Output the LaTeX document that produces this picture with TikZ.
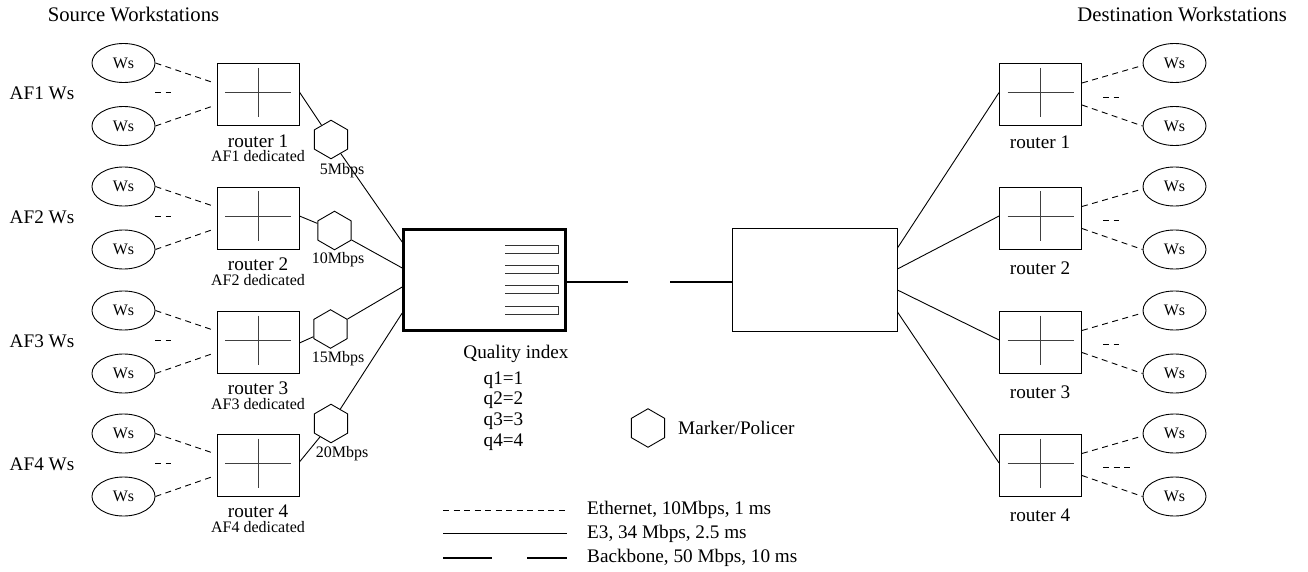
\documentclass[tikz,border=0pt]{standalone}
\usepackage{fontspec}
\setmainfont{Liberation Serif}
\usetikzlibrary{shapes.geometric,calc}
\begin{document}
\begin{tikzpicture}[x=1pt,y=-1pt,
  every node/.style={inner sep=0pt},
  big/.style={font=\fontsize{19.2}{22}\selectfont},
  title/.style={font=\fontsize{20.7}{24}\selectfont},
  small/.style={font=\fontsize{16}{19}\selectfont},
  link/.style={line width=0.9pt},
  eth/.style={line width=0.9pt, dash pattern=on 6pt off 4.5pt},
  backbone/.style={line width=2.8pt},
  crossline/.style={line width=0.9pt, black!75},
  router/.style={draw, line width=0.9pt, minimum width=82pt, minimum height=62pt},
  ws/.style={draw, ellipse, line width=0.9pt, minimum width=63pt, minimum height=39pt,
    font=\fontsize{16}{19}\selectfont},
  policer/.style={draw, regular polygon, regular polygon sides=6, shape border rotate=30,
    minimum size=38.5pt, line width=0.9pt}]
\useasboundingbox (0,0) rectangle (1308,572);

% titles
\node[title] (srcT) at (133.5,14) {Source Workstations};
\node[title, anchor=east] (dstT) at (1287,14) {Destination Workstations};

% central boxes
\node[draw, line width=2.6pt, minimum width=162pt, minimum height=101pt] (Q) at (484.5,280) {};
\node[draw, link, minimum width=165pt, minimum height=103pt] (D) at (814.5,279.5) {};

% queues inside the quality box
\foreach \t in {245,265.3,285.6,306}
  \draw[link, black!80] (505,\t) -- (558,\t) -- (558,\t+8) -- (505,\t+8);

% backbone
\coordinate (BL) at (628,282);
\coordinate (BR) at (670,282);
\draw[backbone] (Q.east |- BL) -- (BL);
\draw[backbone] (BR) -- (D.west |- BR);

% source side
\foreach \i/\cy in {1/94.5,2/218,3/342,4/465} {
  \node[router] (L\i) at (258,\cy) {};
  \draw[crossline] ($(L\i.center)+(-33,-2)$) -- ++(66,0);
  \draw[crossline] ($(L\i.center)+(0,-26.5)$) -- ++(0,49);
  \node[ws] (LWa\i) at (123.5,\cy-31.5) {Ws};
  \node[ws] (LWb\i) at (123.5,\cy+31.5) {Ws};
  \draw[eth] (LWa\i.east) -- ([xshift=-5pt,yshift=12.5pt]L\i.west);
  \draw[eth] (LWb\i.east) -- ([xshift=-5pt,yshift=-12pt]L\i.west);
  \draw[eth] (155,\cy-2) -- (171,\cy-2);
  \node[big] (AF\i) at (42,\cy-1) {AF\i{} Ws};
  \node[big] (Ln\i) at (258,\cy+46.5) {router \i};
  \node[small] (Ld\i) at (258,\cy+62) {AF\i{} dedicated};
}

% marker/policers with their rates
\node[policer] (P1) at (331,139.5) {};
\node[policer] (P2) at (334.5,230.5) {};
\node[policer] (P3) at (330.5,329) {};
\node[policer] (P4) at (331,423.5) {};
\node[small] (r1) at (342,171) {5Mbps};
\node[small] (r2) at (338,260) {10Mbps};
\node[small] (r3) at (338,359) {15Mbps};
\node[small] (r4) at (342,454) {20Mbps};

\draw[link] ([yshift=2.5pt]L1.east) -- (P1);
\draw[link] ([yshift=2pt]L2.east) -- (P2);
\draw[link] ([yshift=-1pt]L3.east) -- (P3);
\draw[link] ([yshift=3pt]L4.east) -- (P4);
\draw[link] (P1) -- ([yshift=38pt]Q.west);
\draw[link] (P2) -- ([yshift=12pt]Q.west);
\draw[link] (P3) -- ([yshift=-7pt]Q.west);
\draw[link] (P4) -- ([yshift=-33pt]Q.west);

% quality index
\node[big] (QI) at (516,354) {Quality index};
\node[align=left, font=\fontsize{19.2}{20.7}\selectfont] (QL) at (503.5,411) {q1=1\\q2=2\\q3=3\\q4=4};

% destination side
\foreach \i/\cy/\off/\ly in {1/94.5/31.5/142,2/218/10.5/268,3/342/-10.5/392,4/465/-32.5/515} {
  \node[router] (R\i) at (1040.5,\cy) {};
  \draw[crossline] ($(R\i.center)+(-33,-2)$) -- ++(66,0);
  \draw[crossline] ($(R\i.center)+(0,-26.5)$) -- ++(0,49);
  \node[ws] (RWa\i) at (1174.5,\cy-31.5) {Ws};
  \node[ws] (RWb\i) at (1174.5,\cy+31.5) {Ws};
  \draw[eth] ([yshift=11.5pt]R\i.east) -- ([yshift=-2.5pt]RWa\i.west);
  \draw[eth] ([yshift=-10.5pt]R\i.east) -- (RWb\i.west);
  \draw[link] ([yshift=\off pt]D.east) -- ([yshift=2pt]R\i.west);
  \node[big] (Rn\i) at (1040,\ly) {router \i};
}
\foreach \cy in {94.5,218,342}
  \draw[eth] (1103,\cy+2.5) -- (1119,\cy+2.5);
\draw[eth] (1103,467) -- (1130,467);

% legend
\node[policer] (PM) at (648,428) {};
\node[big, anchor=west] (PMt) at (678,428) {Marker/Policer};
\draw[eth] (443,510) -- (567,510);
\draw[link] (443,533) -- (567,533);
\draw[backbone] (443,558) -- (492,558);
\draw[backbone] (527,558) -- (567,558);
\node[big, anchor=west] (leg1) at (587,510) {Ethernet, 10Mbps, 1 ms};
\node[big, anchor=west] (leg2) at (587,533.5) {E3, 34 Mbps, 2.5 ms};
\node[big, anchor=west] (leg3) at (587,558) {Backbone, 50 Mbps, 10 ms};
\end{tikzpicture}
\end{document}
